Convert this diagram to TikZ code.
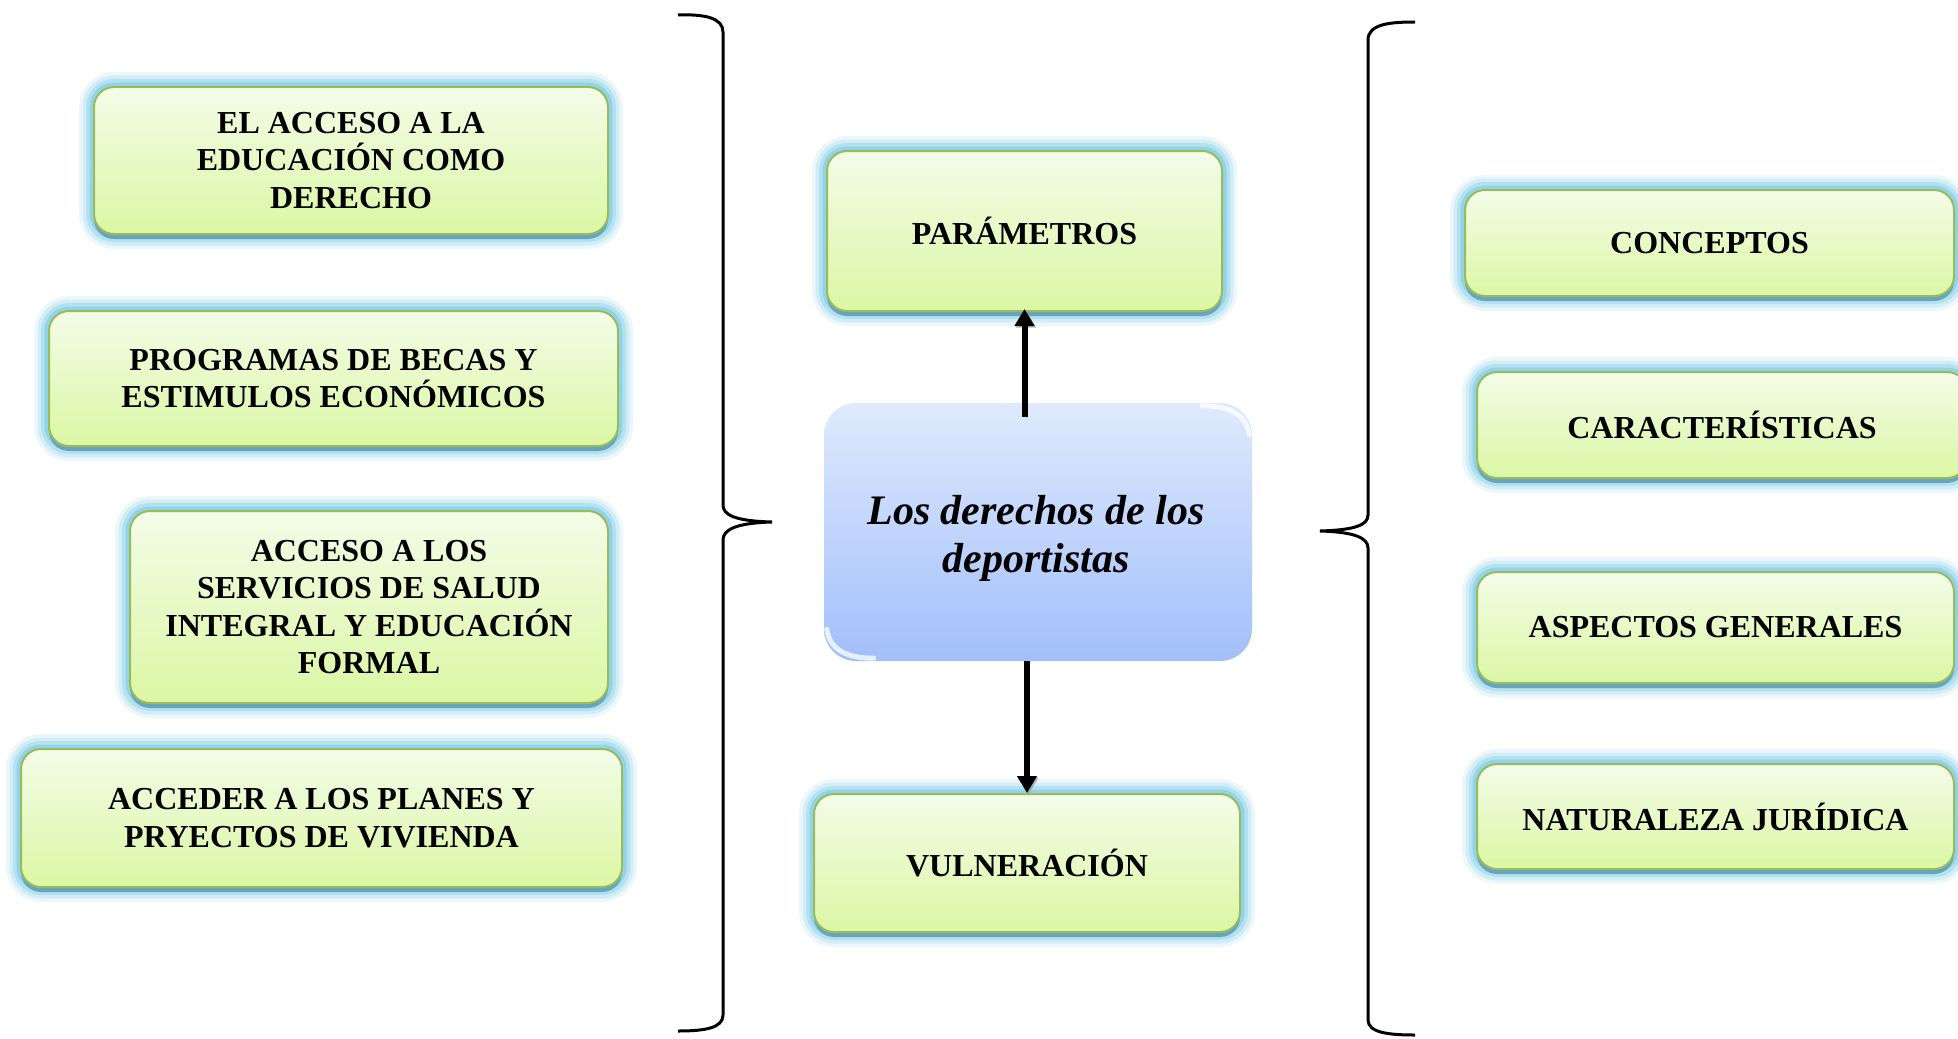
\documentclass[tikz,border=0pt]{standalone}
\usepackage{fontspec}
\setmainfont{Liberation Serif}
\usetikzlibrary{arrows.meta}
\definecolor{boxtop}{HTML}{F3FCE8}
\definecolor{boxbot}{HTML}{DBF7A4}
\definecolor{boxline}{HTML}{9BBB59}
\definecolor{glowc}{HTML}{86D0E8}
\definecolor{shadc}{HTML}{5E9DB8}
\definecolor{ctop}{HTML}{DFEAFD}
\definecolor{cbot}{HTML}{A2BFFA}
\tikzset{
  greenbox/.style={rectangle, rounded corners=20pt, draw=boxline, line width=2pt,
    top color=boxtop, bottom color=boxbot, align=center, inner sep=0pt,
    preaction={draw=glowc, line width=30pt, draw opacity=0.15},
    preaction={draw=glowc, line width=23pt, draw opacity=0.25},
    preaction={draw=glowc, line width=16pt, draw opacity=0.4},
    preaction={draw=glowc, line width=9pt, draw opacity=0.75},
    preaction={fill=shadc, fill opacity=0.85, transform canvas={yshift=-5pt}}},
  lefttext/.style={font=\fontsize{32}{37.5}\selectfont\bfseries},
  righttext/.style={font=\fontsize{32}{37.5}\selectfont\bfseries},
  centerbox/.style={rectangle, rounded corners=32pt, top color=ctop, bottom color=cbot,
    inner sep=0pt},
  centertext/.style={align=center, inner sep=0pt,
    font=\fontsize{42}{48}\selectfont\bfseries\itshape},
  bracket/.style={draw=black, line width=3pt},
  bigarrow/.style={draw=black, line width=6pt, -{Triangle[length=17pt,width=19pt]},
    preaction={draw=black!45, draw opacity=0.6, transform canvas={xshift=1.5pt,yshift=-1.5pt}}}
}
\begin{document}
\begin{tikzpicture}[x=1pt,y=-1pt]
\useasboundingbox (0,0) rectangle (1958,1038);
\fill[white] (0,0) rectangle (1958,1038);

% left column
\node[greenbox, lefttext, minimum width=514pt, minimum height=147pt] (l1) at (351,160.5)
  {EL ACCESO A LA\\EDUCACIÓN COMO\\DERECHO};
\node[greenbox, lefttext, minimum width=569pt, minimum height=135pt] (l2) at (333.5,378.5)
  {PROGRAMAS DE BECAS Y\\ESTIMULOS ECONÓMICOS};
\node[greenbox, lefttext, minimum width=478pt, minimum height=192pt] (l3) at (369,607)
  {ACCESO A LOS\\SERVICIOS DE SALUD\\INTEGRAL Y EDUCACIÓN\\FORMAL};
\node[greenbox, lefttext, minimum width=601pt, minimum height=138pt] (l4) at (321.5,818)
  {ACCEDER A LOS PLANES Y\\PRYECTOS DE VIVIENDA};

% centre column
\node[greenbox, righttext, minimum width=395pt, minimum height=160pt] (par) at (1024.5,231)
  {PARÁMETROS};
\node[centerbox, minimum width=428pt, minimum height=258pt] (main) at (1038,532) {};
\node[centertext] (maintext) at (1036,538) {Los derechos de los\\deportistas};
\node[greenbox, righttext, minimum width=426pt, minimum height=138pt] (vul) at (1027,863)
  {VULNERACIÓN};

% glossy highlights of the centre box
\draw[white, line width=5pt, opacity=0.75, line cap=round]
  ([xshift=-50pt,yshift=-3pt]main.north east) .. controls ([xshift=-22pt,yshift=-3pt]main.north east) and ([xshift=-6pt,yshift=-12pt]main.north east) .. ([xshift=-3pt,yshift=-32pt]main.north east);
\draw[white, line width=5pt, opacity=0.75, line cap=round]
  ([xshift=3pt,yshift=32pt]main.south west) .. controls ([xshift=6pt,yshift=12pt]main.south west) and ([xshift=22pt,yshift=3pt]main.south west) .. ([xshift=50pt,yshift=3pt]main.south west);

% right column
\node[greenbox, righttext, minimum width=489pt, minimum height=106pt] (con) at (1709.5,243)
  {CONCEPTOS};
\node[greenbox, righttext, minimum width=490pt, minimum height=106pt] (car) at (1722,425)
  {CARACTERÍSTICAS};
\node[greenbox, righttext, minimum width=477pt, minimum height=111pt] (asp) at (1715.5,627.5)
  {ASPECTOS GENERALES};
\node[greenbox, righttext, minimum width=477pt, minimum height=105pt] (nat) at (1715.5,816.5)
  {NATURALEZA JURÍDICA};

% arrows
\draw[bigarrow] ([yshift=-14pt]par.south |- main.north) -- ([yshift=3pt]par.south);
\draw[bigarrow] (vul.north |- main.south) -- (vul.north);

% left brace
\draw[bracket] (678,15) .. controls (705,14) and (723,18) .. (723,32) -- (723,505)
  .. controls (723,515) and (735,521) .. (772,522)
  .. controls (735,523) and (723,530) .. (723,540) -- (723,1015)
  .. controls (723,1028) and (705,1031) .. (678,1031);
% right brace
\draw[bracket] (1415,22) .. controls (1390,22) and (1368,24) .. (1368,40) -- (1368,515)
  .. controls (1368,525) and (1355,530) .. (1320,531)
  .. controls (1355,532) and (1368,538) .. (1368,548) -- (1368,1020)
  .. controls (1368,1033) and (1390,1035) .. (1415,1035);
\end{tikzpicture}
\end{document}
